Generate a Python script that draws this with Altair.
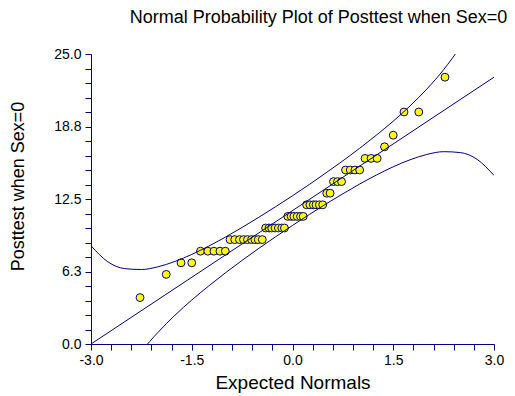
import altair as alt
import pandas as pd

# Expected normal scores (x) and sorted posttest values (y)
expected = [-2.27, -1.88, -1.66, -1.50, -1.37, -1.26, -1.17, -1.08, -1.00,
            -0.93, -0.86, -0.79, -0.73, -0.67, -0.61, -0.56, -0.51, -0.45,
            -0.40, -0.35, -0.31, -0.26, -0.21, -0.16, -0.12,
            -0.07, -0.02, 0.02, 0.07, 0.12, 0.16,
            0.21, 0.26, 0.31, 0.35, 0.40, 0.45,
            0.51, 0.56,
            0.61, 0.67, 0.73,
            0.79, 0.86, 0.93, 1.00,
            1.08, 1.17, 1.26,
            1.37, 1.50, 1.66, 1.88, 2.27]
posttest = [4, 6, 7, 7, 8, 8, 8, 8, 8,
            9, 9, 9, 9, 9, 9, 9, 9, 9,
            10, 10, 10, 10, 10, 10, 10,
            11, 11, 11, 11, 11, 11,
            12, 12, 12, 12, 12, 12,
            13, 13,
            14, 14, 14,
            15, 15, 15, 15,
            16, 16, 16,
            17, 18, 20, 20, 23]

# Confidence band curves, read at steps of 0.25 along x
band_x = [-3.0, -2.75, -2.5, -2.25, -2.0, -1.75, -1.5, -1.25, -1.0, -0.75, -0.5, -0.25,
          0.0, 0.25, 0.5, 0.75, 1.0, 1.25, 1.5, 1.75, 2.0, 2.25, 2.5, 2.75, 3.0]
upper = [8.47, 7.09, 6.50, 6.42, 6.66, 7.12, 7.72, 8.43, 9.21, 10.05, 10.93, 11.84,
         12.78, 13.75, 14.76, 15.79, 16.87, 18.01, 19.21, 20.52, 21.98, 23.65, 25.65, 28.16, 31.45]
lower = [-8.45, -5.16, -2.65, -0.65, 1.02, 2.48, 3.79, 4.99, 6.13, 7.21, 8.25, 9.25,
         10.22, 11.16, 12.08, 12.95, 13.79, 14.57, 15.28, 15.88, 16.34, 16.58, 16.50, 15.91, 14.53]

# Reference line end points
fit_x = [-3.0, 3.0]
fit_y = [0.0, 23.0]

x_ticks = [-3.0, -2.7, -2.4, -2.1, -1.8, -1.5, -1.2, -0.9, -0.6, -0.3, 0.0,
           0.3, 0.6, 0.9, 1.2, 1.5, 1.8, 2.1, 2.4, 2.7, 3.0]
y_ticks = [0.0, 1.25, 2.5, 3.75, 5.0, 6.25, 7.5, 8.75, 10.0, 11.25, 12.5, 13.75,
           15.0, 16.25, 17.5, 18.75, 20.0, 21.25, 22.5, 23.75, 25.0]

NAVY = "#000080"
FONT = "Liberation Sans"

pts = pd.DataFrame({"x": expected, "y": posttest})
bands = pd.DataFrame({
    "x": band_x + band_x,
    "y": upper + lower,
    "band": ["upper"] * len(band_x) + ["lower"] * len(band_x),
})
fit = pd.DataFrame({"x": fit_x, "y": fit_y})

xscale = alt.Scale(domain=[-3, 3], nice=False, zero=False)
yscale = alt.Scale(domain=[0, 25], nice=False, zero=False)

x_axis = alt.Axis(
    values=x_ticks,
    labelExpr="abs(datum.value/1.5 - round(datum.value/1.5)) < 0.01 ? replace(format(datum.value, '.1f'), '−', '-') : ''",
    title="Expected Normals",
    titleX=201.5, titleY=44, titleAnchor="middle", titleAlign="center",
    titleBaseline="alphabetic", titleFontSize=19,
    labelPadding=3, tickSize=6, labelFlush=False, labelOverlap=False,
)
y_axis = alt.Axis(
    values=y_ticks,
    labelExpr="abs(datum.value/6.25 - round(datum.value/6.25)) < 0.01 ? format(datum.value, '.1f') : ''",
    title="Posttest when Sex=0",
    titleX=-73, titleY=132, titleAngle=270, titleAlign="center",
    titleBaseline="middle", titleFontSize=18,
    labelPadding=4, tickSize=6, labelFlush=False, labelOverlap=False,
)

X = alt.X("x:Q", scale=xscale, axis=x_axis)
Y = alt.Y("y:Q", scale=yscale, axis=y_axis)

points = alt.Chart(pts).mark_circle(
    size=62, color="#FFFF00", stroke=NAVY, strokeWidth=1, opacity=1
).encode(x=X, y=Y)

band_lines = alt.Chart(bands).mark_line(
    color=NAVY, strokeWidth=1, clip=True, interpolate="monotone"
).encode(x=X, y=Y, detail="band:N")

fit_line = alt.Chart(fit).mark_line(color=NAVY, strokeWidth=1, clip=True).encode(x=X, y=Y)

chart = alt.layer(points, band_lines, fit_line).properties(
    width=403,
    height=290,
    autosize=alt.AutoSizeParams(type="none"),
    padding={"left": 83, "top": 46, "right": 13, "bottom": 50},
    title=alt.TitleParams(
        "Normal Probability Plot of Posttest when Sex=0",
        font=FONT, fontSize=18, fontWeight="normal", color="black",
        anchor="middle", frame="group", offset=20, dx=26,
    ),
).configure_view(stroke=None).configure_axis(
    grid=False,
    domainColor=NAVY, tickColor=NAVY, domainWidth=1, tickWidth=1,
    labelColor="black", titleColor="black",
    labelFont=FONT, titleFont=FONT, labelFontSize=14,
    titleFontWeight="normal",
)

chart.save("out.html", embed_options={"renderer": "svg", "actions": False})
